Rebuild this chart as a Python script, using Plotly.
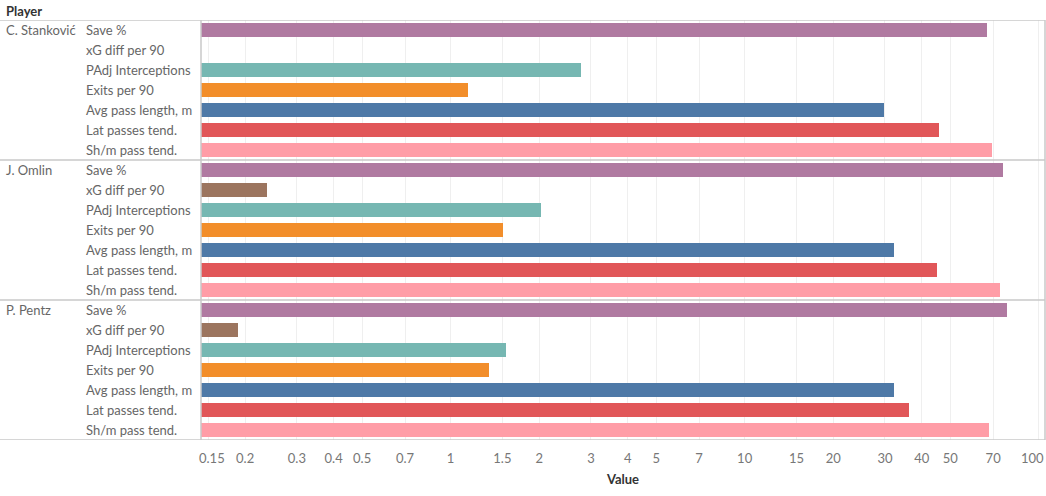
import math
import plotly.graph_objects as go

players = ["C. Stanković", "J. Omlin", "P. Pentz"]
metrics = ["Save %", "xG diff per 90", "PAdj Interceptions", "Exits per 90",
           "Avg pass length, m", "Lat passes tend.", "Sh/m pass tend."]
colors = ["#b07aa1", "#9c755f", "#76b7b2", "#f28e2b", "#4e79a7", "#e15759", "#ff9da7"]

values = {
    "C. Stanković": [66.7, None, 2.77, 1.145, 29.8, 45.8, 69.4],
    "J. Omlin":     [75.6, 0.238, 2.03, 1.51, 32.2, 45.1, 73.9],
    "P. Pentz":     [78.0, 0.189, 1.54, 1.35, 32.2, 36.2, 67.8],
}

tick_vals = [0.15, 0.2, 0.3, 0.4, 0.5, 0.7, 1, 1.5, 2, 3, 4, 5, 7, 10, 15, 20, 30, 40, 50, 70, 100]
tick_text = ["0.15", "0.2", "0.3", "0.4", "0.5", "0.7", "1", "1.5", "2", "3", "4", "5", "7",
             "10", "15", "20", "30", "40", "50", "70", "100"]

W, H = 1046, 496
nm = len(metrics)
FONT = "Lato"
fig = go.Figure()

for mi, m in enumerate(metrics):
    ys, xs = [], []
    for pi, p in enumerate(players):
        ys.append(pi * nm + mi)
        xs.append(values[p][mi])
    fig.add_trace(go.Bar(x=xs, y=ys, orientation="h", marker_color=colors[mi],
                         marker_line_width=0, width=0.74, showlegend=False, name=m))

annotations = []
shapes = []
gray = "#666666"
tick_gray = "#777777"
for pi, p in enumerate(players):
    annotations.append(dict(text=p, x=4 / W, xref="paper", y=pi * nm, yref="y",
                            xanchor="left", yanchor="middle", showarrow=False,
                            font=dict(size=13, color=gray, family=FONT)))
    for mi, m in enumerate(metrics):
        annotations.append(dict(text=m, x=84 / W, xref="paper", y=pi * nm + mi, yref="y",
                                xanchor="left", yanchor="middle", showarrow=False,
                                font=dict(size=13, color=gray, family=FONT)))
# header
annotations.append(dict(text="<b>Player</b>", x=4 / W, xref="paper", y=1, yref="paper",
                        xanchor="left", yanchor="bottom", yshift=-1, showarrow=False,
                        font=dict(size=13, color="#333333", family=FONT)))

# edge tick labels nudged inward (as the reference keeps them inside the view)
axis_text = list(tick_text)
for idx, shift in [(0, 4), (len(tick_vals) - 1, -6)]:
    annotations.append(dict(text=tick_text[idx], x=math.log10(tick_vals[idx]), xref="x",
                            y=0, yref="paper", xanchor="center", yanchor="top",
                            xshift=shift, yshift=-8, showarrow=False,
                            font=dict(size=13, color=tick_gray, family=FONT)))
    axis_text[idx] = ""

line_col = "#c8c8c8"
for b in [-0.5, nm - 0.5, 2 * nm - 0.5, 3 * nm - 0.5]:
    shapes.append(dict(type="line", xref="paper", yref="y", x0=0, x1=1045 / W, y0=b, y1=b,
                       line=dict(color=line_col, width=1.5)))
for xp in [201 / W, 1045 / W]:
    shapes.append(dict(type="line", xref="paper", yref="y", x0=xp, x1=xp,
                       y0=-0.5, y1=3 * nm - 0.5, line=dict(color=line_col, width=1.5)))

fig.update_layout(
    width=W, height=H,
    margin=dict(l=0, r=0, t=20, b=56, autoexpand=False),
    plot_bgcolor="white", paper_bgcolor="white",
    bargap=0,
    font=dict(family=FONT, size=12, color=gray),
    xaxis=dict(type="log", domain=[201 / W, 1045 / W], range=[-0.849, 2.0214],
               tickvals=tick_vals, ticktext=axis_text, showgrid=True,
               gridcolor="#efefef", gridwidth=1, zeroline=False, showline=False,
               ticks="", ticklabelstandoff=9,
               tickfont=dict(size=13, color=tick_gray, family=FONT),
               title=dict(text="<b>Value</b>", font=dict(size=13, color="#333333", family=FONT),
                          standoff=9)),
    yaxis=dict(range=[3 * nm - 0.5, -0.5], showticklabels=False, showgrid=False,
               zeroline=False, showline=False, ticks=""),
    annotations=annotations,
    shapes=shapes,
)

fig.write_html("out.html", config={"displayModeBar": False},
               post_script="document.body.style.margin='0';document.body.style.padding='0';")
